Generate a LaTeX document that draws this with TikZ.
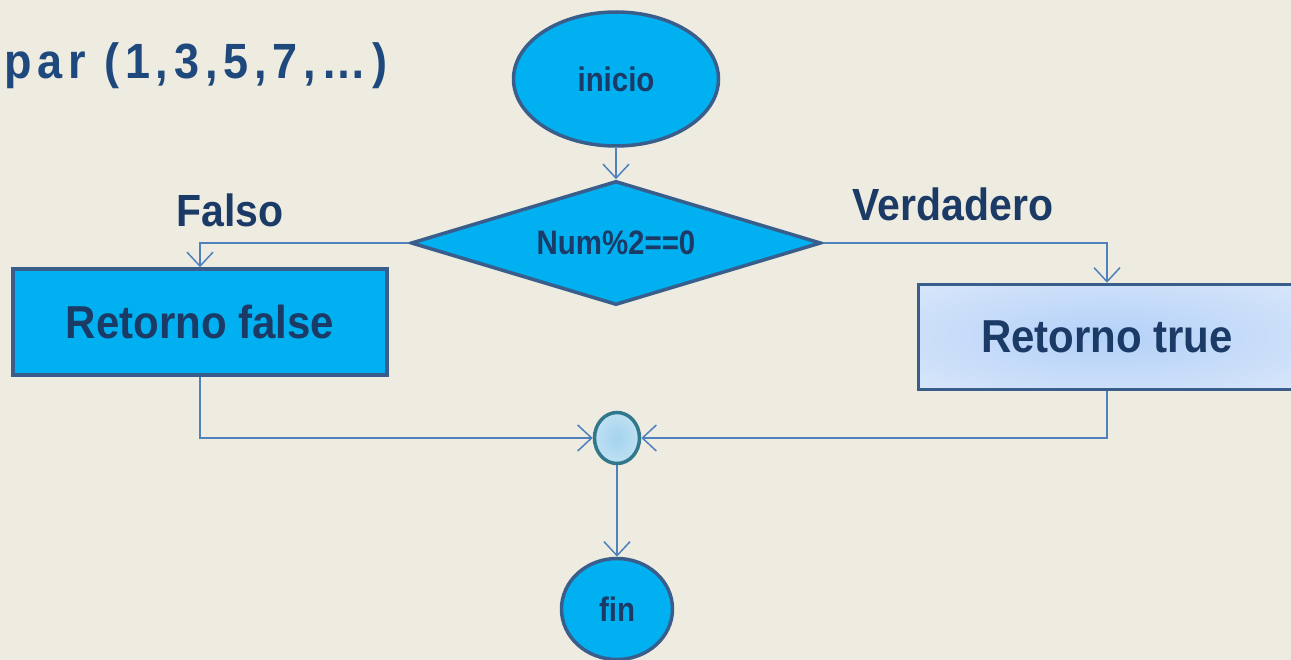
\documentclass[tikz,border=0pt]{standalone}
\usepackage{fontspec}
\setmainfont{Liberation Sans}
\usetikzlibrary{shapes.geometric,arrows.meta}
\definecolor{bgc}{HTML}{EEEBE0}
\definecolor{cyanfill}{HTML}{00B0F0}
\definecolor{edge}{HTML}{3A5E8C}
\definecolor{wire}{HTML}{4F81BD}
\definecolor{ink}{HTML}{1B3A66}
\definecolor{title}{HTML}{1F497D}
\definecolor{paleA}{HTML}{B3D1F8}
\definecolor{paleB}{HTML}{E4EDFB}
\definecolor{ringA}{HTML}{A3D3EE}
\definecolor{ringB}{HTML}{D6EBF6}
\definecolor{ringc}{HTML}{31788C}
\pgfdeclareradialshading{softglow}{\pgfpoint{0bp}{0bp}}{color(0bp)=(paleA); color(48bp)=(paleB); color(100bp)=(paleB)}
\pgfdeclareradialshading{ringglow}{\pgfpoint{0bp}{0bp}}{color(0bp)=(ringA); color(45bp)=(ringB); color(100bp)=(ringB)}
\newcommand{\tallbold}[1]{\scalebox{0.92}[1.06]{#1}}
\newcommand{\tallmed}[1]{\scalebox{1}[1.1]{#1}}
\tikzset{
  shapebox/.style={draw=edge, line width=3.5pt, fill=cyanfill, inner sep=0pt, text=ink},
  flow/.style={draw=wire, line width=1.6pt, -{Straight Barb[length=14pt,width=26pt,line width=1.5pt]}},
  small/.style={font=\bfseries\fontsize{32}{36}\selectfont},
  boxtext/.style={text=ink, font=\bfseries\fontsize{42}{46}\selectfont},
  lbl/.style={text=ink, font=\bfseries\fontsize{41}{45}\selectfont}
}
\begin{document}
\begin{tikzpicture}[x=1pt,y=-1pt]
\useasboundingbox (0,0) rectangle (1291,660);
\clip (0,0) rectangle (1291,660);
\fill[bgc] (0,0) rectangle (1291,660);

% heading
\node[anchor=east, text=title, inner sep=0pt, font=\bfseries\fontsize{45}{50}\selectfont\addfontfeature{LetterSpace=13}] (head) at (388,66) {\tallmed{par (1,3,5,7,…)}};

% flow nodes
\node[shapebox, ellipse, minimum width=205pt, minimum height=134pt, small] (start) at (616,79) {\tallbold{inicio}};
\node[shapebox, diamond, shape aspect=3.3, minimum width=410pt, minimum height=124pt, small] (test) at (616,243) {\tallbold{Num\%2==0}};
\node[shapebox, rectangle, minimum width=374pt, minimum height=106pt, boxtext] (no) at (200,322) {\tallmed{Retorno false}};
\node[shapebox, rectangle, draw=edge, shading=softglow, minimum width=377pt, minimum height=105pt, boxtext] (yes) at (1107,337) {\tallmed{Retorno true}};
\node[draw=ringc, line width=3.5pt, ellipse, inner sep=0pt, minimum width=45pt, minimum height=51pt, shading=ringglow] (join) at (617,438) {};
\node[shapebox, ellipse, minimum width=111pt, minimum height=101pt, small] (stop) at (617,609) {\tallbold{fin}};

% branch labels
\node[lbl] (lf) at (230,210) {\tallmed{Falso}};
\node[lbl] (lv) at (953,204) {\tallmed{Verdadero}};

% connectors
\draw[flow] (start.south) -- (test.north);
\draw[flow] (test.west) -| (no.north);
\draw[flow] (test.east) -| (yes.north);
\draw[flow] (no.south) |- (join.west);
\draw[flow] (yes.south) |- (join.east);
\draw[flow] (join.south) -- (stop.north);
\end{tikzpicture}
\end{document}
